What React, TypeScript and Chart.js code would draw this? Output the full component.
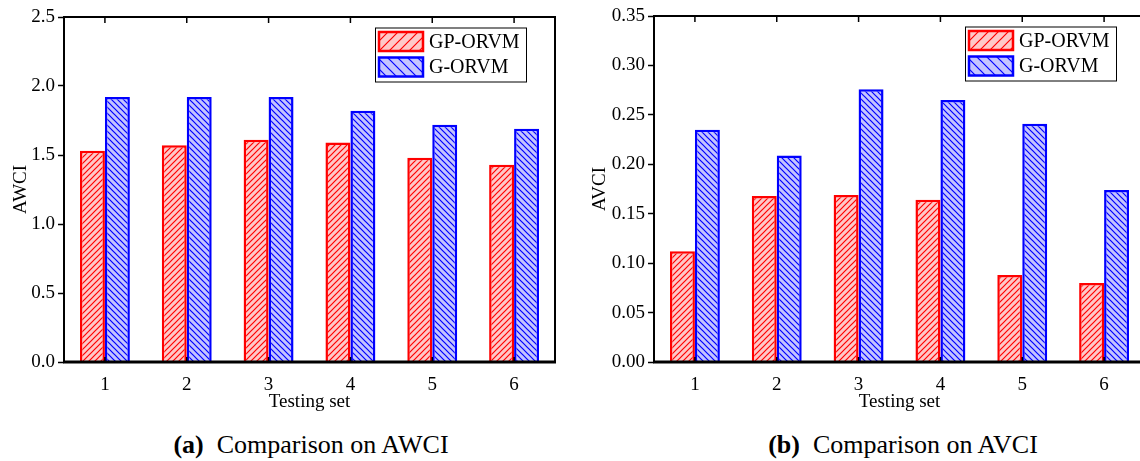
import React, { useEffect, useRef } from "react";
import { Chart, registerables } from "chart.js";

Chart.register(...registerables);

const categories = ["1", "2", "3", "4", "5", "6"];
const seriesNames = ["GP-ORVM", "G-ORVM"];
const awciGP = [1.53, 1.57, 1.61, 1.59, 1.48, 1.43];
const awciG = [1.92, 1.92, 1.92, 1.82, 1.72, 1.69];
const avciGP = [0.112, 0.168, 0.169, 0.164, 0.088, 0.08];
const avciG = [0.235, 0.209, 0.276, 0.265, 0.241, 0.174];
const awciTicks = [0, 0.5, 1.0, 1.5, 2.0, 2.5];
const avciTicks = [0, 0.05, 0.1, 0.15, 0.2, 0.25, 0.3, 0.35];

const FONT = '"Liberation Serif", "Times New Roman", serif';
const CANVAS_H = 420;

function hatch(bg: string, fg: string, dir: "/" | "\\", s: number, lw: number) {
  const c = document.createElement("canvas");
  c.width = s;
  c.height = s;
  const g = c.getContext("2d")!;
  g.fillStyle = bg;
  g.fillRect(0, 0, s, s);
  g.strokeStyle = fg;
  g.lineWidth = lw;
  g.beginPath();
  if (dir === "/") {
    g.moveTo(-1, s + 1);
    g.lineTo(s + 1, -1);
    g.moveTo(-1, 1);
    g.lineTo(1, -1);
    g.moveTo(s - 1, s + 1);
    g.lineTo(s + 1, s - 1);
  } else {
    g.moveTo(-1, -1);
    g.lineTo(s + 1, s + 1);
    g.moveTo(s - 1, -1);
    g.lineTo(s + 1, 1);
    g.moveTo(-1, s - 1);
    g.lineTo(1, s + 1);
  }
  g.stroke();
  return g.createPattern(c, "repeat") as CanvasPattern;
}

const framePlugin = {
  id: "frame",
  afterDatasetsDraw(chart: any) {
    const { ctx, chartArea } = chart;
    const { left, top, right, bottom } = chartArea;
    const xs = chart.scales.x;
    ctx.save();
    ctx.strokeStyle = "#000";
    ctx.lineWidth = 1.5;
    for (let i = 0; i < xs.ticks.length; i++) {
      const px = xs.getPixelForTick(i);
      ctx.beginPath();
      ctx.moveTo(px, top);
      ctx.lineTo(px, top + 6);
      ctx.moveTo(px, bottom);
      ctx.lineTo(px, bottom - 5);
      ctx.stroke();
    }
    ctx.lineWidth = 2;
    ctx.beginPath();
    ctx.moveTo(left, bottom);
    ctx.lineTo(left, top);
    ctx.lineTo(right, top);
    ctx.lineTo(right, bottom);
    ctx.stroke();
    ctx.lineWidth = 3;
    ctx.beginPath();
    ctx.moveTo(left - 1, bottom);
    ctx.lineTo(right + 1, bottom);
    ctx.stroke();
    ctx.restore();
  },
};

const legendPlugin = {
  id: "hatchLegend",
  afterDraw(chart: any, _args: any, opts: any) {
    const { ctx, chartArea } = chart;
    const pats = (opts && opts.patterns) as CanvasPattern[] | undefined;
    if (!pats) return;
    const boxW = 151;
    const boxH = 54;
    const bx = chartArea.right - 29 - boxW;
    const by = chartArea.top + 10.5;
    ctx.save();
    ctx.fillStyle = "#fff";
    ctx.fillRect(bx, by, boxW, boxH);
    ctx.strokeStyle = "#000";
    ctx.lineWidth = 1;
    ctx.strokeRect(bx + 0.5, by + 0.5, boxW, boxH);
    chart.data.datasets.forEach((ds: any, i: number) => {
      const sx = bx + 4;
      const sy = by + 4.5 + i * 25.5;
      ctx.fillStyle = pats[i];
      ctx.fillRect(sx, sy, 44, 19);
      ctx.strokeStyle = ds.borderColor;
      ctx.lineWidth = 2.5;
      ctx.strokeRect(sx, sy, 44, 19);
      ctx.fillStyle = "#000";
      ctx.font = `20px ${FONT}`;
      ctx.textBaseline = "middle";
      ctx.textAlign = "left";
      ctx.fillText(ds.label, bx + 54, sy + 10.5);
    });
    ctx.restore();
  },
};

type Cfg = {
  gp: number[];
  g: number[];
  ticks: number[];
  decimals: number;
  yTitle: string;
  width: number;
  padTop: number;
  plotLeft: number;
  plotRight: number;
  plotBottom: number;
  yTitlePad: number;
};

function BarPanel({ cfg }: { cfg: Cfg }) {
  const ref = useRef<HTMLCanvasElement>(null);
  useEffect(() => {
    if (!ref.current) return;
    const redPat = hatch("#ffc8c8", "#ff0000", "/", 6, 1.2);
    const bluePat = hatch("#c4c4ff", "#0000ff", "\\", 6, 1.2);
    const redLeg = hatch("#ffc8c8", "#ff0000", "/", 10, 1.2);
    const blueLeg = hatch("#c4c4ff", "#0000ff", "\\", 10, 1.2);
    const tickFont = { family: FONT, size: 19 };
    const chart: any = new Chart(ref.current, {
      type: "bar",
      data: {
        labels: categories,
        datasets: [
          {
            label: seriesNames[0],
            data: cfg.gp,
            backgroundColor: redPat,
            borderColor: "#ff0000",
            borderWidth: 2.5,
            barPercentage: 1,
            categoryPercentage: 0.61,
          },
          {
            label: seriesNames[1],
            data: cfg.g,
            backgroundColor: bluePat,
            borderColor: "#0000ff",
            borderWidth: 2.5,
            barPercentage: 1,
            categoryPercentage: 0.61,
          },
        ],
      },
      options: {
        animation: false,
        responsive: false,
        maintainAspectRatio: false,
        layout: {
          padding: { top: cfg.padTop, right: cfg.width - cfg.plotRight, left: 0, bottom: 0 },
        },
        plugins: {
          legend: { display: false },
          tooltip: { enabled: false },
          hatchLegend: { patterns: [redLeg, blueLeg] },
        },
        scales: {
          x: {
            type: "category",
            offset: true,
            grid: { display: false },
            border: { display: false },
            ticks: { color: "#000", font: tickFont, padding: 4, maxRotation: 0 },
            title: {
              display: true,
              text: "Testing set",
              color: "#000",
              font: tickFont,
              padding: { top: 0, bottom: 7 },
            },
            afterFit: (s: any) => {
              s.height = CANVAS_H - cfg.plotBottom;
            },
          },
          y: {
            min: cfg.ticks[0],
            max: cfg.ticks[cfg.ticks.length - 1],
            afterBuildTicks: (s: any) => {
              s.ticks = cfg.ticks.map((v) => ({ value: v }));
            },
            ticks: {
              color: "#000",
              font: tickFont,
              padding: 3,
              callback: (v: any) => Number(v).toFixed(cfg.decimals),
            },
            grid: {
              drawOnChartArea: false,
              drawTicks: true,
              tickLength: 6,
              tickColor: "#000",
              tickWidth: 1.5,
            },
            border: { display: false },
            title: {
              display: true,
              text: cfg.yTitle,
              color: "#000",
              font: tickFont,
              padding: { top: cfg.yTitlePad, bottom: 0 },
            },
            afterFit: (s: any) => {
              s.width = cfg.plotLeft;
            },
          },
        },
      } as any,
      plugins: [framePlugin, legendPlugin],
    });
    return () => chart.destroy();
  }, [cfg]);
  return <canvas ref={ref} width={cfg.width} height={CANVAS_H} style={{ display: "block" }} />;
}

const leftCfg: Cfg = {
  gp: awciGP,
  g: awciG,
  ticks: awciTicks,
  decimals: 1,
  yTitle: "AWCI",
  width: 570,
  padTop: 17,
  plotLeft: 64,
  plotRight: 555,
  plotBottom: 362,
  yTitlePad: 10,
};

const rightCfg: Cfg = {
  gp: avciGP,
  g: avciG,
  ticks: avciTicks,
  decimals: 2,
  yTitle: "AVCI",
  width: 590,
  padTop: 16,
  plotLeft: 84,
  plotRight: 575,
  plotBottom: 362,
  yTitlePad: 18.5,
};

const captionStyle: React.CSSProperties = {
  position: "absolute",
  top: 431,
  width: 400,
  textAlign: "center",
  fontFamily: FONT,
  fontSize: 26,
  lineHeight: "28px",
  whiteSpace: "pre",
  color: "#000",
};

export default function App() {
  return (
    <div
      style={{
        position: "fixed",
        left: 0,
        top: 0,
        width: 1140,
        height: 461,
        overflow: "hidden",
        background: "#fff",
      }}
    >
      <div style={{ position: "absolute", left: 0, top: 0 }}>
        <BarPanel cfg={leftCfg} />
      </div>
      <div style={{ position: "absolute", left: 570, top: 0 }}>
        <BarPanel cfg={rightCfg} />
      </div>
      <div style={{ ...captionStyle, left: 311 - 200 }}>
        <b>(a)</b>
        {"  Comparison on AWCI"}
      </div>
      <div style={{ ...captionStyle, left: 903 - 200 }}>
        <b>(b)</b>
        {"  Comparison on AVCI"}
      </div>
    </div>
  );
}
